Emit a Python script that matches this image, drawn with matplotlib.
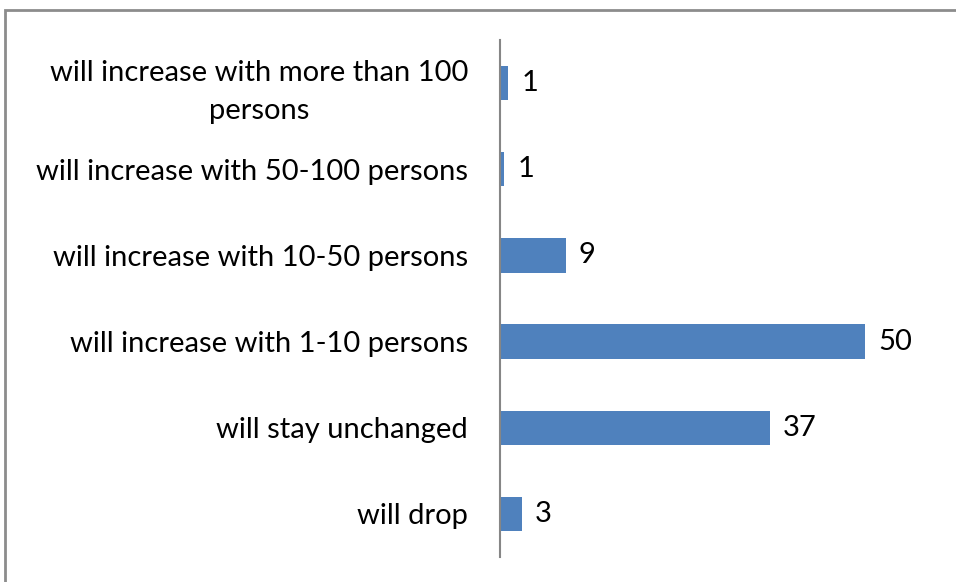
import matplotlib
matplotlib.use("Agg")
import matplotlib.pyplot as plt
from matplotlib.patches import Rectangle

categories = ["will drop", "will stay unchanged", "will increase with 1-10 persons",
              "will increase with 10-50 persons", "will increase with 50-100 persons",
              "will increase with more than 100\npersons"]
values = [3, 37, 50, 9, 0.6, 1.1]

plt.rcParams['font.family'] = ['Lato', 'DejaVu Sans']

fig = plt.figure(figsize=(9.56, 5.82), dpi=100)
ax = fig.add_axes([500/956, 25/582, 438/956, 517/582])

ypos = list(range(len(categories)))
ax.barh(ypos, values, height=0.4, color="#4f81bd")
for y, v in zip(ypos, values):
    ax.text(v + 1.8, y, f"{round(v):d}", va="center", ha="left", fontsize=21, color="black")

ax.set_xlim(0, 60)
ax.set_ylim(-0.5, 5.5)
ax.set_yticks(ypos)
ax.set_yticklabels(categories, fontsize=21, ha="right", linespacing=1.6)
for lbl in ax.get_yticklabels():
    lbl.set_multialignment("center")
ax.tick_params(axis="y", length=0, pad=23)
ax.set_xticks([])
for s in ["top", "right", "bottom"]:
    ax.spines[s].set_visible(False)
ax.spines["left"].set_color("#868686")
ax.spines["left"].set_linewidth(1.5)

fig.patches.append(Rectangle((5/956, -0.1), 1.2, 1 - 10/582 + 0.1, transform=fig.transFigure,
                             fill=False, edgecolor="#8c8c8c", linewidth=2))

fig.savefig("out.png", dpi=100)
